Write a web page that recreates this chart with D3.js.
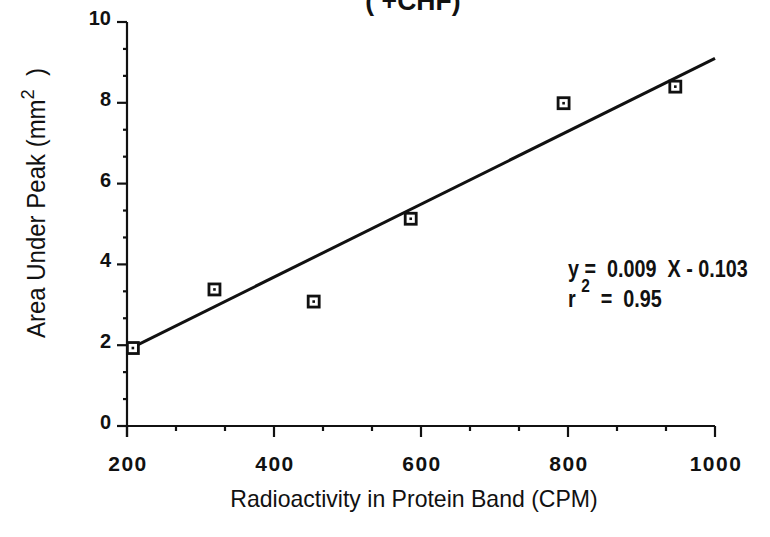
<!DOCTYPE html>
<html>
<head>
<meta charset="utf-8">
<script src="https://cdn.jsdelivr.net/npm/d3@7"></script>
<style>
  body { margin: 0; background: #fff; }
  svg { display: block; }
  text { fill: #111; }
</style>
</head>
<body>
<svg id="chart" width="770" height="537"></svg>
<script>
// data
const cpm = [208, 319, 454, 586, 794, 946]
const area = [1.93, 3.38, 3.08, 5.13, 7.99, 8.4]
const fitX = [200, 1000]
const fitY = [1.88, 9.1]
const xTicks = [200, 400, 600, 800, 1000]
const yTicks = [0, 2, 4, 6, 8, 10]

const font = "'Liberation Sans', Arial, sans-serif"

const svg = d3.select('#chart')

const x = d3.scaleLinear().domain([200, 1000]).range([127, 715])
const y = d3.scaleLinear().domain([0, 10]).range([426, 22])

// text squeezed sideways, the scan uses a narrow face
function narrow(parent, tx, ty, size, sx, rot) {
  return parent.append('text')
    .attr('transform', `translate(${tx},${ty}) rotate(${rot || 0}) scale(${sx},1)`)
    .attr('font-family', font)
    .attr('font-size', size)
    .attr('xml:space', 'preserve')
}

// minor ticks every third of a major step
const xMinor = d3.range(200, 1000.1, 200 / 3)
const yMinor = d3.range(0, 10.01, 2 / 3)

const axes = svg.append('g').attr('stroke', '#111').attr('stroke-width', 2.2)

axes.append('line')
  .attr('x1', x(200)).attr('x2', x(1000))
  .attr('y1', y(0)).attr('y2', y(0))
axes.append('line')
  .attr('x1', x(200)).attr('x2', x(200))
  .attr('y1', y(10)).attr('y2', y(0) + 11)

axes.selectAll('.xminor').data(xMinor)
  .join('line')
  .attr('x1', d => x(d)).attr('x2', d => x(d))
  .attr('y1', y(0)).attr('y2', d => y(0) + (xTicks.some(t => Math.abs(t - d) < 1) ? 11 : 5))

axes.selectAll('.yminor').data(yMinor)
  .join('line')
  .attr('y1', d => y(d)).attr('y2', d => y(d))
  .attr('x1', x(200)).attr('x2', d => x(200) - (yTicks.some(t => Math.abs(t - d) < 0.01) ? 10 : 4))

svg.append('g').selectAll('text').data(xTicks)
  .join('text')
  .attr('x', d => x(d) + 1)
  .attr('y', 471)
  .attr('text-anchor', 'middle')
  .attr('font-family', font)
  .attr('font-weight', 'bold')
  .attr('font-size', 21)
  .attr('letter-spacing', 1.5)
  .text(d => d)

svg.append('g').selectAll('text').data(yTicks)
  .join('text')
  .attr('x', x(200) - 16)
  .attr('y', d => y(d) + 3)
  .attr('text-anchor', 'end')
  .attr('font-family', font)
  .attr('font-weight', 'bold')
  .attr('font-size', 20)
  .text(d => d)

// regression line
svg.append('line')
  .attr('x1', x(fitX[0])).attr('y1', y(fitY[0]))
  .attr('x2', x(fitX[1])).attr('y2', y(fitY[1]))
  .attr('stroke', '#111')
  .attr('stroke-width', 3)

// square markers with a dot
const pts = svg.append('g').selectAll('g').data(cpm.map((c, i) => [c, area[i]]))
  .join('g')
  .attr('transform', d => `translate(${x(d[0])},${y(d[1])})`)
pts.append('rect')
  .attr('x', -5.5).attr('y', -5.5).attr('width', 11).attr('height', 11)
  .attr('fill', '#fff').attr('stroke', '#111').attr('stroke-width', 2.8)
pts.append('rect')
  .attr('x', -1.3).attr('y', -1.3).attr('width', 2.6).attr('height', 2.6)
  .attr('fill', '#111')

// title, cut off at the top
narrow(svg, 413, 10, 28, 0.95)
  .attr('text-anchor', 'middle')
  .attr('font-weight', 'bold')
  .text('( +CHF)')

// equation
narrow(svg, 568, 277, 23, 0.86)
  .attr('font-weight', 'bold')
  .text('y =  0.009  X - 0.103')

const r2 = narrow(svg, 568, 307, 23, 0.86)
  .attr('font-weight', 'bold')
r2.append('tspan').text('r ')
r2.append('tspan').attr('dy', -15).attr('font-size', 18).text('2')
r2.append('tspan').attr('dy', 15).text('  =  0.95')

// axis titles
narrow(svg, 414, 507, 24, 0.96)
  .attr('text-anchor', 'middle')
  .text('Radioactivity in Protein Band (CPM)')

const yl = narrow(svg, 45, 203, 25, 0.96, -90)
  .attr('text-anchor', 'middle')
yl.append('tspan').text('Area Under Peak (mm')
yl.append('tspan').attr('dy', -11).attr('font-size', 19).text('2')
yl.append('tspan').attr('dy', 11).text('  )')
</script>
</body>
</html>
